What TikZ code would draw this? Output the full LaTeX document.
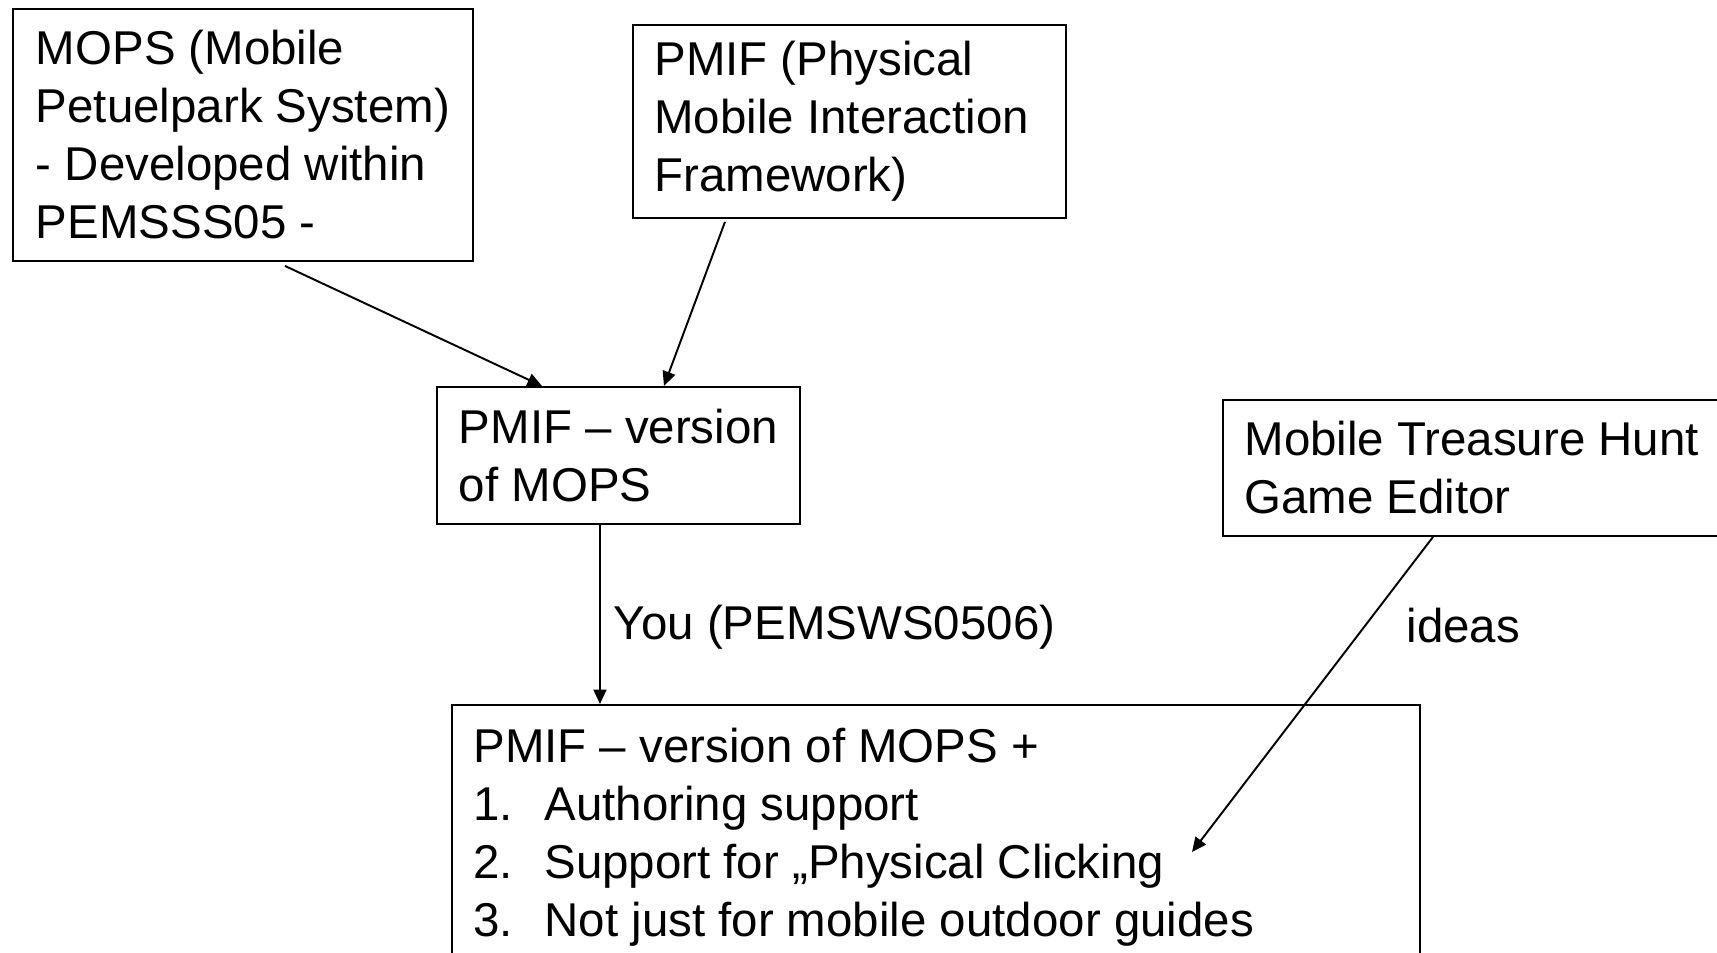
\documentclass[tikz,border=0pt]{standalone}
\usepackage{fontspec}
\setmainfont{Liberation Sans}
\usetikzlibrary{arrows.meta}

\begin{document}
\begin{tikzpicture}[font=\fontsize{27}{33}\selectfont,
>={Triangle[length=2.9mm,width=2.6mm]},
line width=1.1pt]
\tikzstyle{box} = [draw, anchor=north west, inner xsep=4.3mm, inner ysep=0mm, align=flush left]
\tikzstyle{lbl} = [inner sep=0mm, anchor=west]

\clip (0,0) rectangle (34.34,19.04);

\node[box, minimum width=92mm, minimum height=50.4mm](mops) at (0.24,18.88)
{MOPS (Mobile\\Petuelpark System)\\- Developed within\\PEMSSS05 -};
\node[box, text width=78mm, minimum height=38.6mm](pmif) at (12.64,18.56)
{PMIF (Physical\\Mobile Interaction\\Framework)};
\node[box, minimum width=72.6mm, minimum height=27.4mm](pmifmops) at (8.72,11.32)
{PMIF -- version\\of MOPS};
\node[box, minimum width=99mm, minimum height=27.2mm](hunt) at (24.44,11.06)
{Mobile Treasure Hunt\\Game Editor};
\node[box, text width=185mm, minimum height=53mm](extras) at (9.02,4.96)
{PMIF -- version of MOPS +\\
\makebox[14.2mm][l]{1.}Authoring support\\
\makebox[14.2mm][l]{2.}Support for „Physical Clicking\\
\makebox[14.2mm][l]{3.}Not just for mobile outdoor guides};

\draw[->] ([xshift=8.4mm,yshift=-0.8mm]mops.south) -- ([xshift=-15.3mm]pmifmops.north);
\draw[->] ([xshift=-24.9mm,yshift=-0.6mm]pmif.south) -- ([xshift=9.1mm]pmifmops.north);
\draw[->] ([xshift=-3.7mm]pmifmops.south) --
([xshift=-67.2mm]extras.north) node[lbl, midway, xshift=2.6mm, yshift=-2.5mm] {You (PEMSWS0506)};

% ideas arrow points into the list
\coordinate (clicktip) at ([xshift=148.2mm,yshift=-29.6mm]extras.north west);
\draw[->] ([xshift=42.2mm]hunt.south west) -- (clicktip) node[lbl, pos=0.28, xshift=8mm] {ideas};

\end{tikzpicture}
\end{document}
